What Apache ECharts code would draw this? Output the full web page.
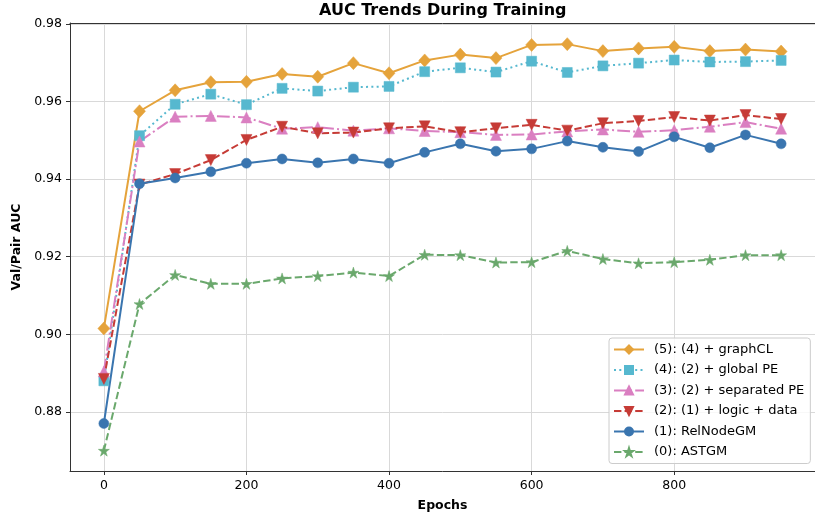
<!DOCTYPE html>
<html>
<head>
<meta charset="utf-8">
<script src="https://cdn.jsdelivr.net/npm/echarts@6/dist/echarts.min.js"></script>
<style>html,body{margin:0;padding:0;background:#fff}#c{width:815px;height:520px}</style>
</head>
<body>
<div id="c"></div>
<script>
const epochs = [0,50,100,150,200,250,300,350,400,450,500,550,600,650,700,750,800,850,900,950];
const graphCL   = [0.9015,0.9575,0.9629,0.9650,0.9651,0.9671,0.9664,0.9699,0.9673,0.9706,0.9721,0.9712,0.9746,0.9748,0.9730,0.9737,0.9741,0.9730,0.9734,0.9729];
const globalPE  = [0.8880,0.9512,0.9593,0.9619,0.9592,0.9634,0.9627,0.9637,0.9639,0.9677,0.9687,0.9676,0.9704,0.9675,0.9692,0.9699,0.9707,0.9702,0.9703,0.9706];
const sepPE     = [0.8904,0.9497,0.9561,0.9563,0.9559,0.9530,0.9534,0.9525,0.9531,0.9524,0.9521,0.9514,0.9515,0.9523,0.9528,0.9522,0.9526,0.9535,0.9547,0.9530];
const logicData = [0.8885,0.9386,0.9413,0.9449,0.9501,0.9535,0.9518,0.9520,0.9531,0.9536,0.9521,0.9531,0.9540,0.9525,0.9544,0.9550,0.9560,0.9551,0.9565,0.9555];
const relNode   = [0.8770,0.9388,0.9403,0.9419,0.9441,0.9452,0.9442,0.9452,0.9441,0.9469,0.9491,0.9472,0.9478,0.9498,0.9482,0.9471,0.9509,0.9481,0.9514,0.9491];
const astgm     = [0.8700,0.9078,0.9153,0.9130,0.9130,0.9144,0.9150,0.9159,0.9150,0.9205,0.9204,0.9185,0.9186,0.9215,0.9194,0.9183,0.9186,0.9192,0.9204,0.9204];
const names = ['(5): (4) + graphCL','(4): (2) + global PE','(3): (2) + separated PE','(2): (1) + logic + data','(1): RelNodeGM','(0): ASTGM'];

const FONT = 'DejaVu Sans';
const star = 'path://M100,0 L122.45,69.1 L195.1,69.1 L136.3,111.8 L158.8,180.9 L100,138.2 L41.2,180.9 L63.7,111.8 L4.9,69.1 L77.55,69.1 Z';
const pairs = arr => epochs.map((e,i)=>[e,arr[i]]);

function mk(name, arr, color, symbol, size, dash, rot) {
  return {
    name, type:'line', data: pairs(arr), color,
    symbol, symbolSize: size, symbolRotate: rot||0, showAllSymbol:true,
    lineStyle:{color, width:2, type: dash, cap:'butt'},
    itemStyle:{color, borderColor:color, borderWidth:0.5},
    emphasis:{disabled:true}
  };
}

const chart = echarts.init(document.getElementById('c'), null, {renderer:'canvas'});
chart.setOption({
  animation:false,
  backgroundColor:'#fff',
  textStyle:{fontFamily:FONT},
  title:{text:'AUC Trends During Training', left:319, top:3, padding:0,
    textStyle:{fontFamily:FONT, fontSize:16, fontWeight:'bold', color:'#000'}},
  grid:{left:70, right:-5, top:23, bottom:49, containLabel:false},
  legend:{
    orient:'vertical', left:609, top:338, padding:[5,6,5,4],
    itemWidth:30, itemHeight:10, itemGap:7.5,
    backgroundColor:'rgba(255,255,255,0.8)', borderColor:'#cccccc', borderWidth:1, borderRadius:3,
    textStyle:{fontFamily:FONT, fontSize:13, lineHeight:13, color:'#000', padding:[0,0,0,5]},
    data:names
  },
  xAxis:[{
    type:'value', min:-47.5, max:997.5,
    name:'Epochs', nameLocation:'middle', nameGap:28,
    nameTextStyle:{fontFamily:FONT, fontSize:12.5, fontWeight:'bold', color:'#000'},
    axisLine:{show:true, onZero:false, lineStyle:{color:'#333', width:1}},
    axisTick:{show:true, length:4, lineStyle:{color:'#333'}},
    axisLabel:{fontFamily:FONT, fontSize:12.5, color:'#000', margin:8, showMinLabel:false, showMaxLabel:false},
    splitLine:{show:true, lineStyle:{color:'#d9d9d9', width:1}}
  },{
    type:'value', position:'top', min:-47.5, max:997.5,
    axisLine:{show:true, onZero:false, lineStyle:{color:'#333', width:1}},
    axisTick:{show:false}, axisLabel:{show:false}, splitLine:{show:false}
  }],
  yAxis:{
    type:'value', min:0.86475, max:0.98025,
    name:'Val/Pair AUC', nameLocation:'middle', nameGap:46,
    nameTextStyle:{fontFamily:FONT, fontSize:12.5, fontWeight:'bold', color:'#000'},
    axisLine:{show:true, onZero:false, lineStyle:{color:'#333', width:1}},
    axisTick:{show:true, length:4, lineStyle:{color:'#333'}},
    axisLabel:{fontFamily:FONT, fontSize:12.5, color:'#000', margin:8, showMinLabel:false, showMaxLabel:false,
      formatter: v => v.toFixed(2)},
    splitLine:{show:true, lineStyle:{color:'#d9d9d9', width:1}}
  },
  series:[
    mk(names[0], graphCL,   '#E5A33B', 'diamond', [12,13], 'solid'),
    mk(names[1], globalPE,  '#56B8CF', 'rect', 10, [2,3.3]),
    mk(names[2], sepPE,     '#DA7FC1', 'triangle', 11, [12.8,3.2,2,3.2]),
    mk(names[3], logicData, '#C63B36', 'triangle', 11, [7.4,3.2], 180),
    mk(names[4], relNode,   '#3A75AF', 'circle', 10, 'solid'),
    mk(names[5], astgm,     '#6AA86C', star, 11, [7.4,3.2])
  ]
});
</script>
</body>
</html>
